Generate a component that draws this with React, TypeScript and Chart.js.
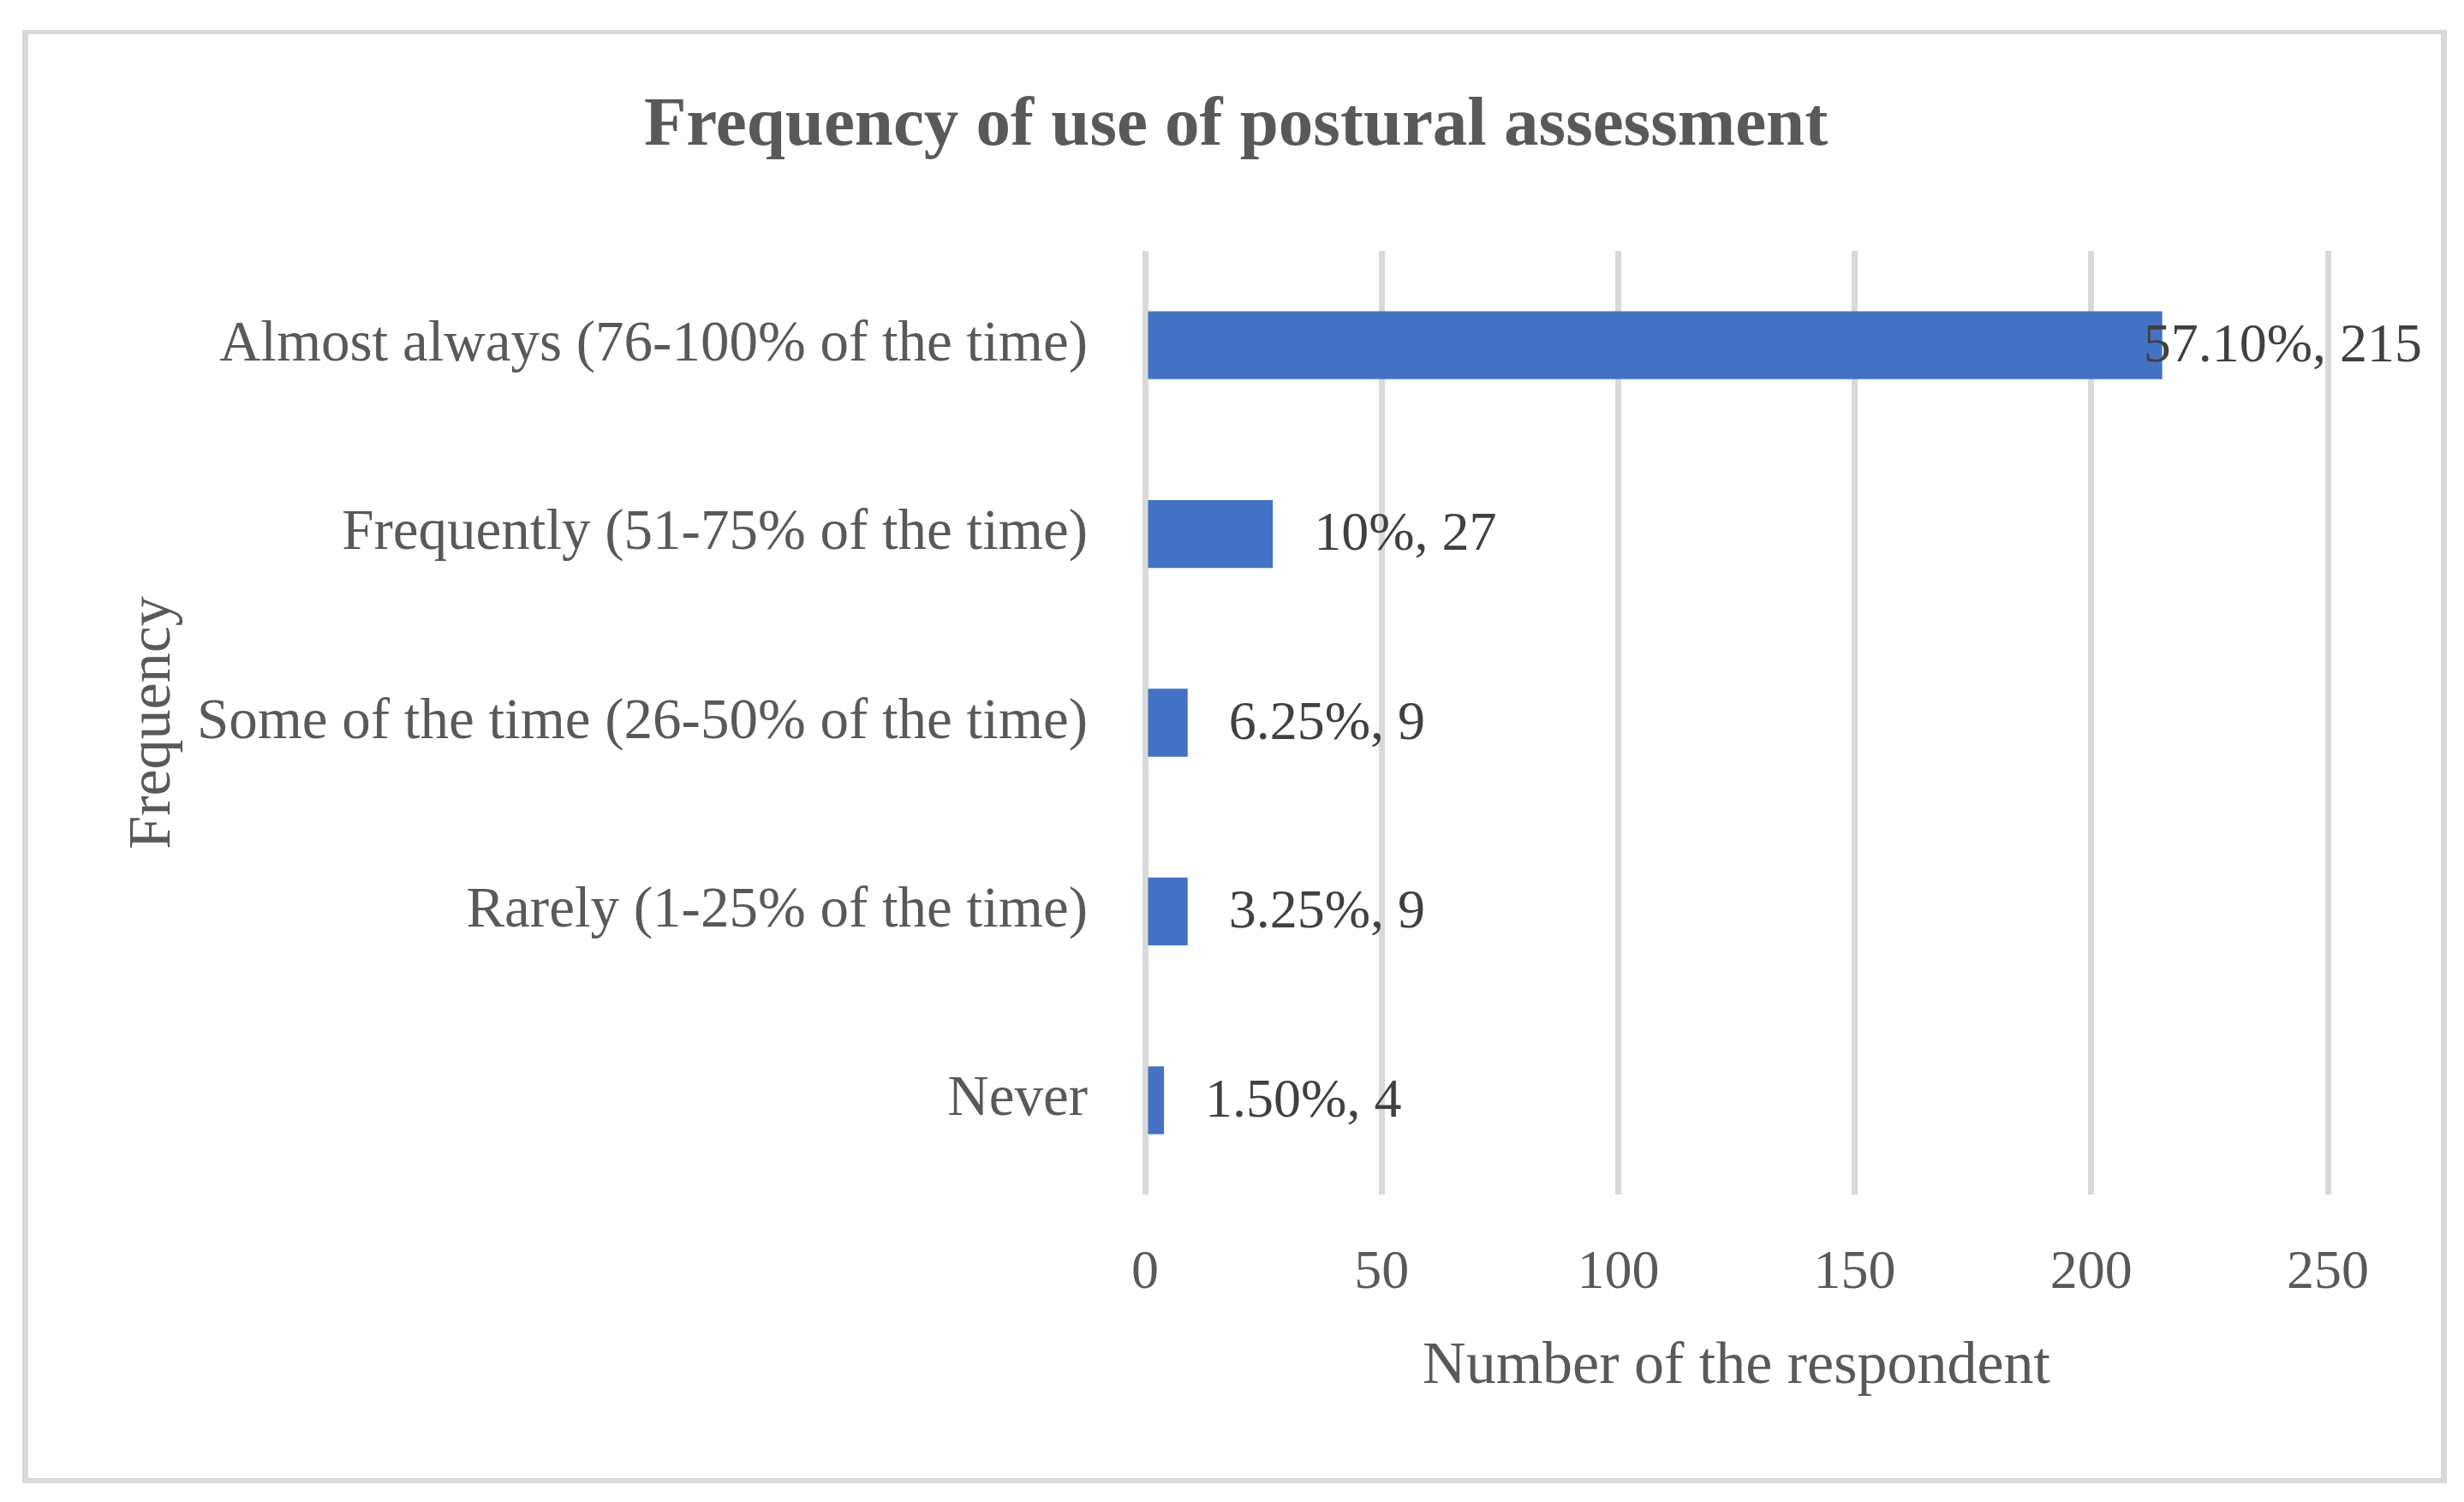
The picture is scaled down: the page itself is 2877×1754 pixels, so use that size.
import React, { useEffect, useRef } from "react";
import { Chart, registerables } from "chart.js";

Chart.register(...registerables);

const chartTitle = "Frequency of use of postural assessment";
const categories = [
  "Almost always (76-100% of the time)",
  "Frequently (51-75% of the time)",
  "Some of the time (26-50% of the time)",
  "Rarely (1-25% of the time)",
  "Never",
];
const respondents = [215, 27, 9, 9, 4];
const percentLabels = ["57.10%", "10%", "6.25%", "3.25%", "1.50%"];
const xTicks = [0, 50, 100, 150, 200, 250];

const W = 2877;
const H = 1754;
const FONT = "'Liberation Serif', 'Times New Roman', serif";
const TEXT = "#595959";
const GRID = "#d9d9d9";

const frameAndLabels = {
  id: "frameAndLabels",
  beforeDraw(chart: any) {
    const ctx = chart.ctx;
    ctx.save();
    ctx.fillStyle = "#ffffff";
    ctx.fillRect(0, 0, chart.width, chart.height);
    ctx.fillStyle = GRID;
    ctx.fillRect(26, 35, 2831, 5);
    ctx.fillRect(26, 1726, 2831, 6);
    ctx.fillRect(26, 35, 7, 1697);
    ctx.fillRect(2850, 35, 7, 1697);
    ctx.fillStyle = TEXT;
    ctx.font = `bold 81px ${FONT}`;
    ctx.textAlign = "center";
    ctx.textBaseline = "middle";
    ctx.fillText(chartTitle, 1443, 148);
    ctx.restore();
  },
  afterDatasetsDraw(chart: any) {
    const ctx = chart.ctx;
    const meta = chart.getDatasetMeta(0);
    ctx.save();
    ctx.font = `64px ${FONT}`;
    ctx.fillStyle = "#404040";
    ctx.textBaseline = "middle";
    ctx.textAlign = "left";
    meta.data.forEach((bar: any, i: number) => {
      const text = `${percentLabels[i]}, ${respondents[i]}`;
      const w = ctx.measureText(text).width;
      let x = bar.x + 48;
      const maxRight = 2828;
      if (x + w > maxRight) x = maxRight - w;
      ctx.fillText(text, x, bar.y + 2);
    });
    ctx.restore();
  },
};

export default function App() {
  const ref = useRef<HTMLCanvasElement | null>(null);

  useEffect(() => {
    if (!ref.current) return;
    const chart = new Chart(ref.current, {
      type: "bar",
      data: {
        labels: categories,
        datasets: [
          {
            data: respondents,
            backgroundColor: "#4472C4",
            borderWidth: 0,
            barPercentage: 0.36,
            categoryPercentage: 1,
          },
        ],
      },
      plugins: [frameAndLabels],
      options: {
        indexAxis: "y",
        animation: false,
        responsive: false,
        devicePixelRatio: 1,
        layout: { padding: { left: 40, right: 159, top: 293, bottom: 40 } },
        plugins: {
          legend: { display: false },
          tooltip: { enabled: false },
          title: { display: false },
        },
        scales: {
          x: {
            min: 0,
            max: 250,
            afterBuildTicks(scale: any) {
              scale.ticks = xTicks.map((v) => ({ value: v }));
            },
            afterFit(scale: any) {
              scale.height = 319;
            },
            grid: { color: GRID, lineWidth: 7, drawTicks: false },
            border: { display: false },
            ticks: {
              color: TEXT,
              padding: 54,
              font: { family: FONT, size: 64, lineHeight: 1.2 },
            },
            title: {
              display: true,
              text: "Number of the respondent",
              color: TEXT,
              font: { family: FONT, size: 70, lineHeight: 1.2 },
              padding: { top: 0, bottom: 75 },
            },
          },
          y: {
            afterFit(scale: any) {
              scale.width = 1297;
            },
            grid: { display: false, drawTicks: false },
            border: { display: false },
            ticks: {
              color: TEXT,
              padding: 67,
              font: { family: FONT, size: 67, lineHeight: 1.2 },
            },
            title: {
              display: true,
              text: "Frequency",
              color: TEXT,
              font: { family: FONT, size: 70, lineHeight: 1.2 },
              padding: { top: 98, bottom: 0 },
            },
          },
        },
      },
    });
    return () => chart.destroy();
  }, []);

  return (
    <div style={{ position: "fixed", left: 0, top: 0, width: W, height: H, background: "#fff" }}>
      <canvas ref={ref} width={W} height={H} style={{ width: W, height: H, display: "block" }} />
    </div>
  );
}
